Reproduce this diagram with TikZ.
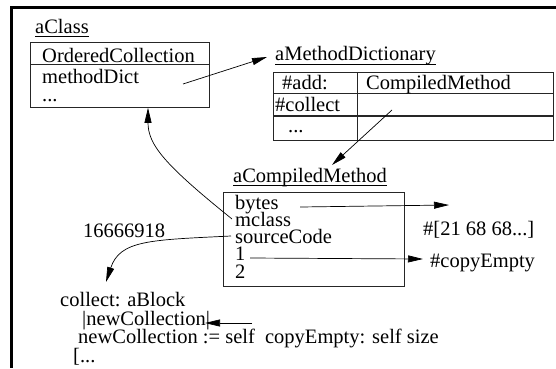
\documentclass[tikz,border=0pt]{standalone}
\usepackage{fontspec}
\setmainfont{Liberation Serif}
\usetikzlibrary{arrows.meta,calc}
\begin{document}
\begin{tikzpicture}[x=1pt,y=-1pt,
  txt/.style={anchor=base west, inner sep=0pt, font=\fontsize{20.5}{20.5}\selectfont},
  boxst/.style={draw=black!85, line width=0.8pt, rectangle, anchor=north west, inner sep=0pt},
  rule/.style={draw=black!85, line width=0.8pt},
  ul/.style={line width=0.8pt},
  arr/.style={-{Triangle[length=15pt,width=7pt]}, line width=0.7pt},
  con/.style={line width=0.7pt}]
\useasboundingbox (0,0) rectangle (556,368);
% frame
\draw[line width=3pt] (556,7) -- (11,7) -- (11,368);

% aClass
\node[txt] (aclass) at (35,33) {aClass};
\draw[ul] ($(aclass.base west)+(0,3)$) -- ($(aclass.base east)+(0,3)$);
\node[boxst, minimum width=179pt, minimum height=65pt] (classbox) at (30,42) {};
\draw[rule] (30,64) -- (209,64);
\node[txt] (ordcol) at (42,62) {OrderedCollection};
\node[txt] (mdict) at (42,83) {methodDict};
\node[txt] (cdots) at (42,101) {...};

% aMethodDictionary
\node[txt] (dictlbl) at (275,60) {aMethodDictionary};
\draw[ul] ($(dictlbl.base west)+(0,4)$) -- ($(dictlbl.base east)+(0,4)$);
\node[boxst, minimum width=280pt, minimum height=68pt] (dict) at (273,72) {};
\draw[rule] (273,93) -- (553,93);
\draw[rule, line width=1.2pt] (273,116) -- (553,116);
\draw[rule] (357,72) -- (357,140);
\node[txt] (add) at (282,89) {\#add:};
\node[txt] (cmcell) at (366,89) {CompiledMethod};
\node[txt] (collectk) at (275,111) {\#collect};
\node[txt] (ddots) at (288,132) {...};

% aCompiledMethod
\node[txt] (cmlbl) at (233,182) {aCompiledMethod};
\draw[ul] ($(cmlbl.base west)+(0,3.5)$) -- ($(cmlbl.base east)+(0,3.5)$);
\node[boxst, minimum width=181pt, minimum height=94pt] (cmbox) at (223,192) {};
\node[txt] (bytes) at (235,209) {bytes};
\node[txt] (mclass) at (235,226) {mclass};
\node[txt] (srccode) at (235,243) {sourceCode};
\node[txt] (one) at (235,260) {1};
\node[txt] (two) at (235,278) {2};

% outside texts
\node[txt] (bytesval) at (423,235) {\#[21 68 68...]};
\node[txt] (copyE) at (430,267) {\#copyEmpty};
\node[txt] (num) at (83,237) {16666918};
\node[txt] (collect) at (60,306) {collect: aBlock};
\node[txt] (tmp) at (82,325) {|newCollection|};
\node[txt] (assign) at (78,343) {newCollection := self\ \ copyEmpty: self size};
\node[txt] (rest) at (73,362) {[...};

% connector coordinates
\coordinate (mdS) at (183,84);
\coordinate (mdE) at (267,57);
\coordinate (dcS) at (392,110);
\coordinate (dcE) at (332,165);
\coordinate (byS) at (300,207);
\coordinate (byE) at (449,205);
\coordinate (oneS) at (250,258);
\coordinate (oneE) at (423,259);
\coordinate (srcE) at (106,282);
\coordinate (ncS) at (252,323);
\coordinate (ncE) at (205,323);

\draw[arr] (mdS) -- (mdE);
\draw[arr] (dcS) -- (dcE);
\draw[arr] (byS) -- (byE);
\draw[arr] (oneS) -- (oneE);
\draw[arr] ($(mclass.west)+(-3,0)$) .. controls (165,165) and (148,145) .. ($(classbox.south west)+(118,0)$);
\draw[arr] ($(srccode.west)+(-4,0)$) .. controls (150,240) and (120,240) .. (srcE);
\draw[arr] (ncS) -- (ncE);
\end{tikzpicture}
\end{document}
